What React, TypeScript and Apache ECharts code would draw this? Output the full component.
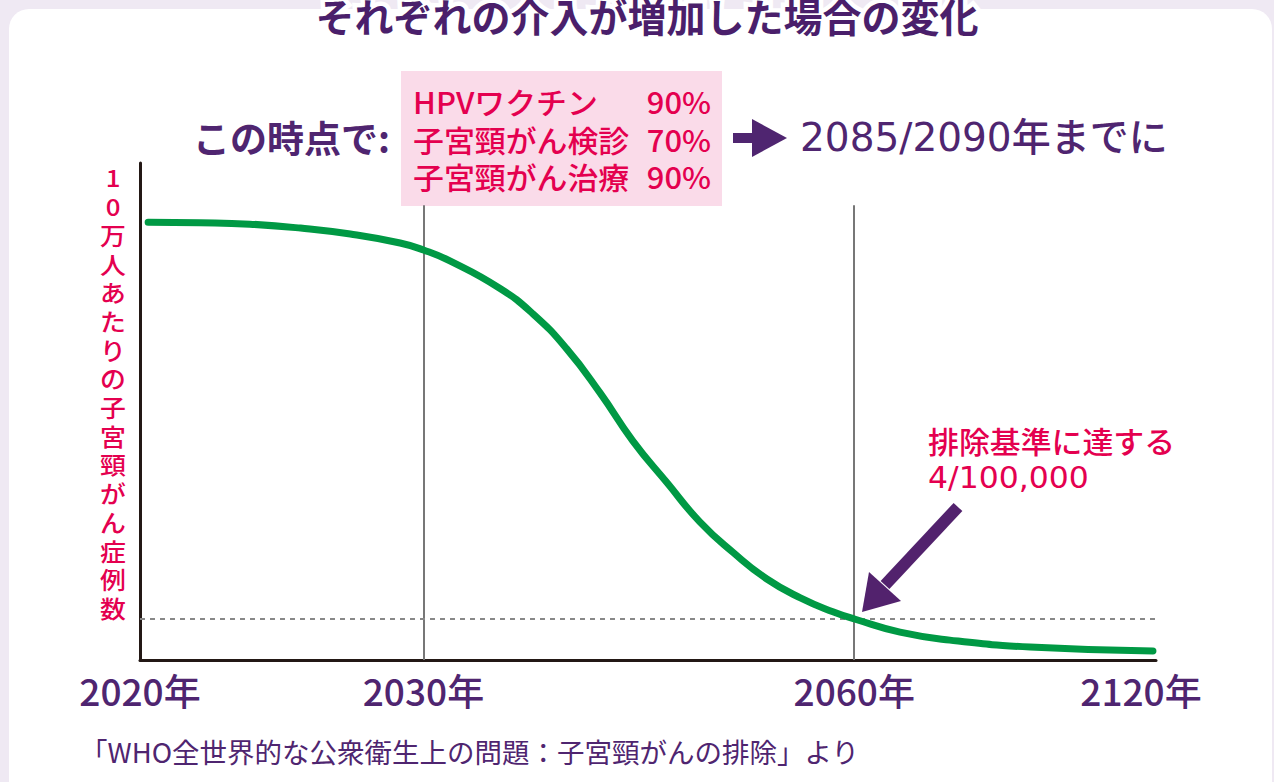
import React, { useEffect, useRef } from "react";
import * as echarts from "echarts";

// x positions along the (schematic, non-linear) time axis: 0 = 2020, 100 = 2120
const tickLabels = ["2020年", "2030年", "2060年", "2120年"];
const tickPositions = [0, 27.9, 70.3, 100];
const markerTickIndexes = [1, 2]; // vertical guide lines at 2030 and 2060
const markerTop = 91.5;
const eliminationThreshold = 8.25;

// incidence curve (schematic units, 0–100 of axis height)
const curveX = [0.8, 5.9, 10.8, 15.8, 20.7, 25.6, 27.9, 30.5, 35.4, 38.7, 42.0, 45.3, 48.5, 51.9, 55.1, 58.4, 61.7, 65.0, 68.2, 70.4, 74.8, 79.7, 87.6, 99.7];
const curveY = [88.1, 88.0, 87.7, 86.9, 85.7, 83.9, 82.5, 80.3, 74.8, 69.6, 62.6, 53.7, 44.1, 35.6, 27.8, 21.6, 16.3, 12.5, 9.7, 8.2, 5.6, 4.0, 2.6, 1.8];

const interventions = ["HPVワクチン", "子宮頸がん検診", "子宮頸がん治療"];
const interventionPct = ["90%", "70%", "90%"];

const titleText = "それぞれの介入が増加した場合の変化";
const yAxisName = "10万人あたりの子宮頸がん症例数";
const leadText = "この時点で:";
const targetText = "2085/2090年までに";
const annotLines = ["排除基準に達する", "4/100,000"];
const sourceText = "「WHO全世界的な公衆衛生上の問題：子宮頸がんの排除」より";

const FONT = "'Noto Sans CJK JP', 'Noto Sans', sans-serif";
const WIDE = "'DejaVu Sans', 'Noto Sans CJK JP', sans-serif";
const PURPLE = "#4f2570";
const CRIMSON = "#e4004f";

export default function App() {
  const ref = useRef<HTMLDivElement>(null);
  useEffect(() => {
    document.body.style.margin = "0";
    const chart = echarts.init(ref.current!, null, { renderer: "svg" });
    const data = curveX.map((x, i) => [x, curveY[i]]);
    const markData: any[] = markerTickIndexes.map((ti) => [
      { coord: [tickPositions[ti], markerTop], lineStyle: { color: "#777", width: 2, type: "solid" } },
      { coord: [tickPositions[ti], 0] },
    ]);
    markData.push([
      { coord: [0, eliminationThreshold], lineStyle: { color: "#888", width: 2, type: [5, 5] } },
      { coord: [100, eliminationThreshold] },
    ]);

    const graphics: any[] = [
      { type: "rect", z: -10, shape: { x: 9, y: 9, width: 1263, height: 830, r: 20 }, style: { fill: "#ffffff" } },
      {
        type: "text",
        x: 647,
        y: 15,
        style: {
          text: titleText,
          font: `bold 39px ${FONT}`,
          fill: "#4a1f6b",
          stroke: "#ffffff",
          lineWidth: 9,
          align: "center",
          verticalAlign: "middle",
          shadowColor: "rgba(0,0,0,0.35)",
          shadowBlur: 4,
          shadowOffsetX: 3,
          shadowOffsetY: 4,
        },
      },
      { type: "rect", shape: { x: 401, y: 71, width: 321, height: 135 }, style: { fill: "#fadbe9" } },
      {
        type: "text",
        x: 390,
        y: 137,
        style: { text: leadText, font: `bold 37px ${FONT}`, fill: PURPLE, align: "right", verticalAlign: "middle" },
      },
      { type: "line", shape: { x1: 733, y1: 138, x2: 760, y2: 138 }, style: { stroke: PURPLE, lineWidth: 10 } },
      { type: "polygon", shape: { points: [[752, 119], [787, 138], [752, 157]] }, style: { fill: PURPLE } },
      {
        type: "text",
        x: 800,
        y: 137,
        style: { text: targetText, font: `500 39px ${WIDE}`, fill: PURPLE, align: "left", verticalAlign: "middle" },
      },
    ];
    // vertical y-axis name, one character per line
    yAxisName.split("").forEach((ch, i) => {
      graphics.push({
        type: "text",
        x: 113,
        y: 177 + i * 28.7,
        scaleX: 1.1,
        style: {
          text: ch,
          font: `500 23.5px ${FONT}`,
          lineHeight: 24,
          fill: CRIMSON,
          align: "center",
          verticalAlign: "middle",
        },
      });
    });
    graphics.push(
      {
        type: "text",
        x: 928,
        y: 440,
        scaleX: 1.03,
        style: { text: annotLines[0], font: `500 30px ${FONT}`, lineHeight: 30, fill: CRIMSON, align: "left", verticalAlign: "middle" },
      },
      {
        type: "text",
        x: 928,
        y: 477,
        scaleX: 1.05,
        style: { text: annotLines[1], font: `500 30px ${WIDE}`, lineHeight: 30, fill: CRIMSON, align: "left", verticalAlign: "middle" },
      },
      { type: "line", shape: { x1: 958, y1: 507, x2: 885, y2: 585 }, style: { stroke: "#52226d", lineWidth: 12 } },
      { type: "polygon", shape: { points: [[862, 612], [869, 572], [901, 601]] }, style: { fill: "#52226d" } },
      {
        type: "text",
        x: 80,
        y: 751,
        style: { text: sourceText, font: `27.5px ${FONT}`, fill: PURPLE, align: "left", verticalAlign: "middle" },
      }
    );
    interventions.forEach((t, i) => {
      const y = 101 + i * 37.8;
      graphics.push({
        type: "text",
        x: 413,
        y,
        scaleX: 1.03,
        style: { text: t, font: `500 30px ${FONT}`, lineHeight: 30, fill: CRIMSON, align: "left", verticalAlign: "middle" },
      });
      graphics.push({
        type: "text",
        x: 711,
        y,
        scaleX: 1.03,
        style: { text: interventionPct[i], font: `500 30px ${FONT}`, lineHeight: 30, fill: CRIMSON, align: "right", verticalAlign: "middle" },
      });
    });

    chart.setOption({
      animation: false,
      backgroundColor: "#efe9f3",
      grid: { left: 140, right: 118, top: 163, bottom: 122, containLabel: false },
      xAxis: {
        type: "value",
        min: 0,
        max: 100,
        splitLine: { show: false },
        axisTick: { show: false },
        axisLine: { lineStyle: { color: "#231815", width: 3 } },
        axisLabel: {
          customValues: tickPositions,
          formatter: (v: number) => {
            let best = 0;
            tickPositions.forEach((p, i) => {
              if (Math.abs(p - v) < Math.abs(tickPositions[best] - v)) best = i;
            });
            return best === tickPositions.length - 1 ? `{last|${tickLabels[best]}}` : tickLabels[best];
          },
          rich: {
            last: {
              color: PURPLE,
              fontFamily: FONT,
              fontSize: 37,
              fontWeight: 500,
              lineHeight: 37,
              padding: [0, 30, 0, 0],
            },
          },
          color: PURPLE,
          fontFamily: FONT,
          fontSize: 37,
          fontWeight: 500,
          margin: 11,
          lineHeight: 37,
        },
      },
      yAxis: {
        type: "value",
        min: 0,
        max: 100,
        splitLine: { show: false },
        axisTick: { show: false },
        axisLabel: { show: false },
        axisLine: { show: true, lineStyle: { color: "#231815", width: 3 } },
      },
      graphic: graphics,
      series: [
        {
          type: "line",
          data,
          smooth: 0.5,
          showSymbol: false,
          lineStyle: { color: "#009944", width: 7, cap: "round" },
          z: 5,
          markLine: { silent: true, symbol: "none", label: { show: false }, data: markData, z: 1 },
        },
      ],
    });
    return () => chart.dispose();
  }, []);
  return <div ref={ref} style={{ position: "fixed", left: 0, top: 0, width: 1274, height: 782 }} />;
}
